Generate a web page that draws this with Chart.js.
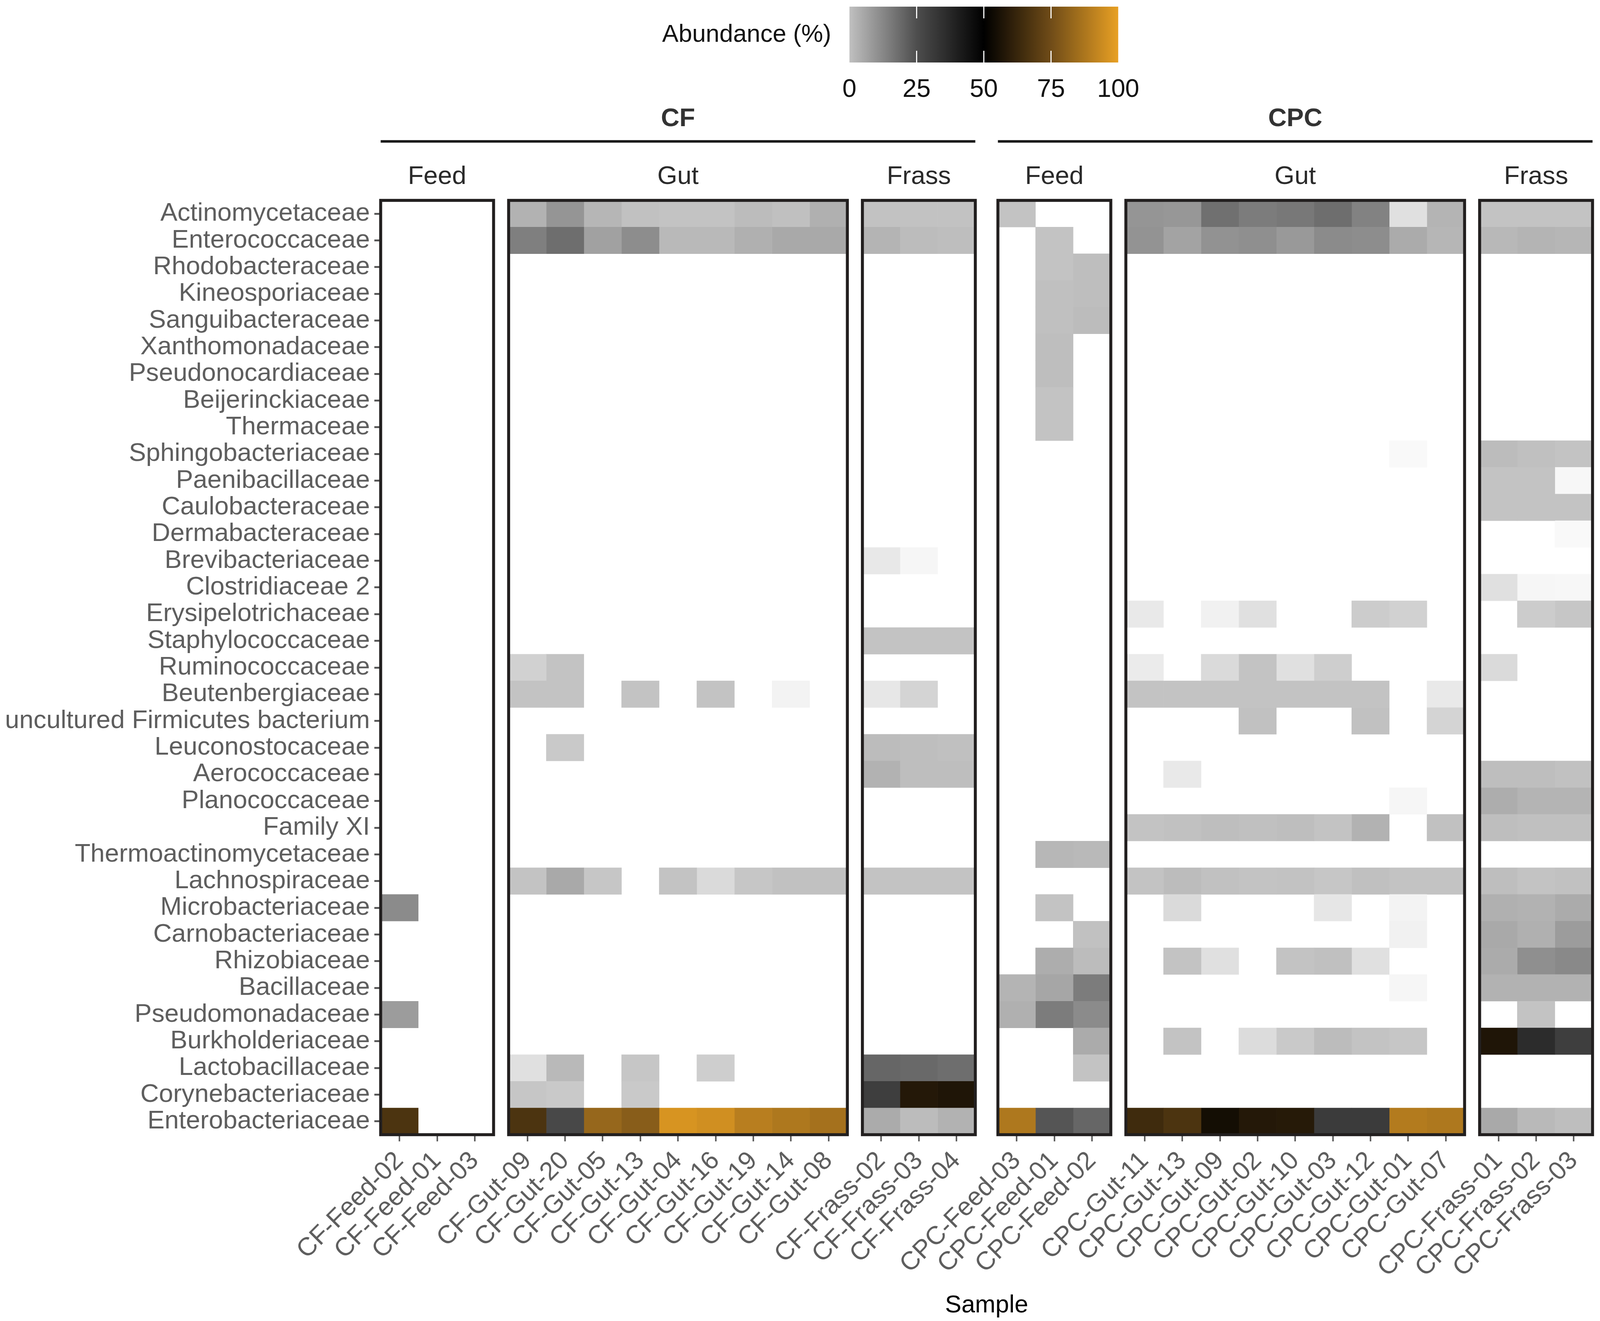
<!DOCTYPE html>
<html>
<head>
<meta charset="utf-8">
<script src="https://cdn.jsdelivr.net/npm/chart.js@4.4.1/dist/chart.umd.min.js"></script>
<style>
  html, body { margin: 0; padding: 0; background: #fff; overflow: hidden; }
  #box { position: relative; width: 100vw; height: 100vh; }
</style>
</head>
<body>
<div id="box"><canvas id="chart"></canvas></div>
<script>
const families = ['Actinomycetaceae', 'Enterococcaceae', 'Rhodobacteraceae', 'Kineosporiaceae', 'Sanguibacteraceae',
  'Xanthomonadaceae', 'Pseudonocardiaceae', 'Beijerinckiaceae', 'Thermaceae', 'Sphingobacteriaceae',
  'Paenibacillaceae', 'Caulobacteraceae', 'Dermabacteraceae', 'Brevibacteriaceae', 'Clostridiaceae 2',
  'Erysipelotrichaceae', 'Staphylococcaceae', 'Ruminococcaceae', 'Beutenbergiaceae', 'uncultured Firmicutes bacterium',
  'Leuconostocaceae', 'Aerococcaceae', 'Planococcaceae', 'Family XI', 'Thermoactinomycetaceae',
  'Lachnospiraceae', 'Microbacteriaceae', 'Carnobacteriaceae', 'Rhizobiaceae', 'Bacillaceae',
  'Pseudomonadaceae', 'Burkholderiaceae', 'Lactobacillaceae', 'Corynebacteriaceae', 'Enterobacteriaceae'];

const cfFeedSamples = ['CF-Feed-02', 'CF-Feed-01', 'CF-Feed-03'];
const cfGutSamples = ['CF-Gut-09', 'CF-Gut-20', 'CF-Gut-05', 'CF-Gut-13', 'CF-Gut-04', 'CF-Gut-16', 'CF-Gut-19', 'CF-Gut-14', 'CF-Gut-08'];
const cfFrassSamples = ['CF-Frass-02', 'CF-Frass-03', 'CF-Frass-04'];
const cpcFeedSamples = ['CPC-Feed-03', 'CPC-Feed-01', 'CPC-Feed-02'];
const cpcGutSamples = ['CPC-Gut-11', 'CPC-Gut-13', 'CPC-Gut-09', 'CPC-Gut-02', 'CPC-Gut-10', 'CPC-Gut-03', 'CPC-Gut-12', 'CPC-Gut-01', 'CPC-Gut-07'];
const cpcFrassSamples = ['CPC-Frass-01', 'CPC-Frass-02', 'CPC-Frass-03'];

// abundance (%) — one row per family (same order as families), one column per sample
const cfFeed = [
  [0,0,0],[0,0,0],[0,0,0],[0,0,0],[0,0,0],
  [0,0,0],[0,0,0],[0,0,0],[0,0,0],[0,0,0],
  [0,0,0],[0,0,0],[0,0,0],[0,0,0],[0,0,0],
  [0,0,0],[0,0,0],[0,0,0],[0,0,0],[0,0,0],
  [0,0,0],[0,0,0],[0,0,0],[0,0,0],[0,0,0],
  [0,0,0],[12.4,0,0],[0,0,0],[0,0,0],[0,0,0],
  [9,0,0],[0,0,0],[0,0,0],[0,0,0],[67,0,0]
];
const cfGut = [
  [4.4, 10.4, 3.6, 1.4, 1, 1, 2.4, 1.6, 5],
  [15, 18.4, 8, 12, 3, 3, 5, 6.4, 6.4],
  [0,0,0,0,0,0,0,0,0],
  [0,0,0,0,0,0,0,0,0],
  [0,0,0,0,0,0,0,0,0],
  [0,0,0,0,0,0,0,0,0],
  [0,0,0,0,0,0,0,0,0],
  [0,0,0,0,0,0,0,0,0],
  [0,0,0,0,0,0,0,0,0],
  [0,0,0,0,0,0,0,0,0],
  [0,0,0,0,0,0,0,0,0],
  [0,0,0,0,0,0,0,0,0],
  [0,0,0,0,0,0,0,0,0],
  [0,0,0,0,0,0,0,0,0],
  [0,0,0,0,0,0,0,0,0],
  [0,0,0,0,0,0,0,0,0],
  [0,0,0,0,0,0,0,0,0],
  [0.75, 1, 0, 0, 0, 0, 0, 0, 0],
  [1, 1, 0, 1, 0, 1, 0, 0.15, 0],
  [0,0,0,0,0,0,0,0,0],
  [0, 0.9, 0, 0, 0, 0, 0, 0, 0],
  [0,0,0,0,0,0,0,0,0],
  [0,0,0,0,0,0,0,0,0],
  [0,0,0,0,0,0,0,0,0],
  [0,0,0,0,0,0,0,0,0],
  [1, 6.4, 0.95, 0, 1, 0.6, 0.95, 1.4, 1.4],
  [0,0,0,0,0,0,0,0,0],
  [0,0,0,0,0,0,0,0,0],
  [0,0,0,0,0,0,0,0,0],
  [0,0,0,0,0,0,0,0,0],
  [0,0,0,0,0,0,0,0,0],
  [0,0,0,0,0,0,0,0,0],
  [0.5, 3, 0, 0.95, 0, 0.8, 0, 0, 0],
  [0.95, 0.9, 0, 0.9, 0, 0, 0, 0, 0],
  [67, 27, 83, 80, 96.5, 95, 90, 88, 86]
];
const cfFrass = [
  [1.2,1.2,1.2],[4,2.4,2],[0,0,0],[0,0,0],[0,0,0],
  [0,0,0],[0,0,0],[0,0,0],[0,0,0],[0,0,0],
  [0,0,0],[0,0,0],[0,0,0],[0.35,0.1,0],[0,0,0],
  [0,0,0],[1,1,1],[0,0,0],[0.36,0.7,0],[0,0,0],
  [2.4,2,1.6],[4.4,2,2],[0,0,0],[0,0,0],[0,0,0],
  [1,1,1],[0,0,0],[0,0,0],[0,0,0],[0,0,0],
  [0,0,0],[0,0,0],[20,19.4,18.4],[30,58,57],[6,2.4,4.4]
];
const cpcFeed = [
  [1,0,0],[0,1,0],[0,1,2],[0,1.6,2],[0,1.6,2.4],
  [0,2,0],[0,2,0],[0,1,0],[0,1,0],[0,0,0],
  [0,0,0],[0,0,0],[0,0,0],[0,0,0],[0,0,0],
  [0,0,0],[0,0,0],[0,0,0],[0,0,0],[0,0,0],
  [0,0,0],[0,0,0],[0,0,0],[0,0,0],[0,3.4,3],
  [0,0,0],[0,1,0],[0,0,1.4],[0,5.6,2.4],[4,7,15.6],
  [5,15.6,12.4],[0,0,6],[0,0,1],[0,0,0],[88,23.6,20]
];
const cpcGut = [
  [10.4, 10, 18, 15.6, 16.4, 18.4, 14.4, 0.5, 4],
  [10.8, 7.6, 11, 11.6, 9.6, 12.4, 12, 6, 3.6],
  [0,0,0,0,0,0,0,0,0],
  [0,0,0,0,0,0,0,0,0],
  [0,0,0,0,0,0,0,0,0],
  [0,0,0,0,0,0,0,0,0],
  [0,0,0,0,0,0,0,0,0],
  [0,0,0,0,0,0,0,0,0],
  [0,0,0,0,0,0,0,0,0],
  [0, 0, 0, 0, 0, 0, 0, 0.06, 0],
  [0,0,0,0,0,0,0,0,0],
  [0,0,0,0,0,0,0,0,0],
  [0,0,0,0,0,0,0,0,0],
  [0,0,0,0,0,0,0,0,0],
  [0,0,0,0,0,0,0,0,0],
  [0.34, 0, 0.2, 0.5, 0, 0, 0.85, 0.75, 0],
  [0,0,0,0,0,0,0,0,0],
  [0.3, 0, 0.6, 1, 0.5, 0.8, 0, 0, 0],
  [1, 1, 1, 1, 1, 1, 1, 0, 0.34],
  [0, 0, 0, 1.4, 0, 0, 1.4, 0, 0.7],
  [0,0,0,0,0,0,0,0,0],
  [0, 0.34, 0, 0, 0, 0, 0, 0, 0],
  [0, 0, 0, 0, 0, 0, 0, 0.1, 0],
  [1, 1.4, 2, 1.6, 2, 1, 4.4, 0, 1.4],
  [0,0,0,0,0,0,0,0,0],
  [1, 2.4, 1.4, 1, 1.2, 0.95, 1.6, 1, 1],
  [0, 0.6, 0, 0, 0, 0.38, 0, 0.15, 0],
  [0, 0, 0, 0, 0, 0, 0, 0.2, 0],
  [0, 1, 0.5, 0, 1, 1.6, 0.5, 0, 0],
  [0, 0, 0, 0, 0, 0, 0, 0.1, 0],
  [0,0,0,0,0,0,0,0,0],
  [0, 1, 0, 0.57, 0.9, 2.4, 1, 0.95, 0],
  [0,0,0,0,0,0,0,0,0],
  [0,0,0,0,0,0,0,0,0],
  [64, 67, 54.5, 58, 58.5, 31, 31, 89, 88]
];
const cpcFrass = [
  [1,1,1],[3.2,4,3.6],[0,0,0],[0,0,0],[0,0,0],
  [0,0,0],[0,0,0],[0,0,0],[0,0,0],[2.4,1.6,1],
  [1,1,0.08],[1,1,1],[0,0,0.05],[0,0,0],[0.5,0.1,0.08],
  [0,0.85,0.95],[0,0,0],[0.6,0,0],[0,0,0],[0,0,0],
  [0,0,0],[2,2,1.4],[5.6,4,4],[2,1.6,1.6],[0,0,0],
  [2,1,1.4],[5,4.4,6],[6.4,5,9],[6,11.6,13],[4.4,4.4,4.4],
  [0,1,0],[57,36,30],[0,0,0],[0,0,0],[6.4,3,2]
];

const colorTicks = [0, 25, 50, 75, 100];

const FONT = '"Liberation Sans", Arial, Helvetica, sans-serif';
Chart.defaults.font.family = FONT;

// everything below was measured on a 4304 x 3382 page; scale to the real viewport
const SX = window.innerWidth / 4304;
const SY = window.innerHeight / 3382;
const S = Math.min(SX, SY);

// grey -> black -> orange colour scale
const stops = [[0, [192,192,192]], [25, [78,78,78]], [50, [0,0,0]], [75, [112,76,24]], [100, [232,160,35]]];
function mix(a, b, t) { return a.map((v, i) => Math.round(v + (b[i] - v) * t)); }
function scaleColor(v) {
  for (let i = 1; i < stops.length; i++) {
    if (v <= stops[i][0]) {
      const t = (v - stops[i-1][0]) / (stops[i][0] - stops[i-1][0]);
      return mix(stops[i-1][1], stops[i][1], t);
    }
  }
  return stops[stops.length - 1][1];
}
function fillFor(v) {
  let c;
  if (v <= 0) c = [255,255,255];
  else if (v < 1) c = mix([252,252,252], [195,195,195], v);   // trace amounts fade to white
  else if (v <= 25) c = mix([195,195,195], [78,78,78], (v - 1) / 24);
  else c = scaleColor(v);
  return `rgb(${c[0]},${c[1]},${c[2]})`;
}

const panels = [
  { group: 'CF', strip: 'Feed', samples: cfFeedSamples, values: cfFeed },
  { group: 'CF', strip: 'Gut', samples: cfGutSamples, values: cfGut },
  { group: 'CF', strip: 'Frass', samples: cfFrassSamples, values: cfFrass },
  { group: 'CPC', strip: 'Feed', samples: cpcFeedSamples, values: cpcFeed },
  { group: 'CPC', strip: 'Gut', samples: cpcGutSamples, values: cpcGut },
  { group: 'CPC', strip: 'Frass', samples: cpcFrassSamples, values: cpcFrass }
];
const gaps = [0, 0.4, 0.4, 0.6, 0.4, 0.4];
let cursor = 0;
panels.forEach((p, i) => {
  cursor += gaps[i];
  p.start = cursor;
  cursor += p.samples.length;
  p.end = cursor;
});
const xMax = cursor;

const tickCenters = [];
const tickNames = [];
const datasets = [];
panels.forEach(p => p.samples.forEach((s, j) => {
  const x0 = p.start + j;
  tickCenters.push(x0 + 0.5);
  tickNames.push(s);
  datasets.push({
    label: s,
    data: p.values.map(row => row[j] > 0 ? [x0, x0 + 1] : null),
    backgroundColor: p.values.map(row => fillFor(row[j])),
    borderWidth: 0,
    barPercentage: 1,
    categoryPercentage: 1,
    grouped: false
  });
}));

const facets = {
  id: 'facets',
  afterDatasetsDraw(chart) {
    const { ctx, chartArea: a, scales: { x } } = chart;
    ctx.save();
    // panel borders + strip labels
    ctx.lineWidth = 8 * S;
    ctx.strokeStyle = '#221f1f';
    ctx.fillStyle = '#2a2a2a';
    ctx.textAlign = 'center';
    ctx.textBaseline = 'middle';
    ctx.font = (69 * S) + 'px ' + FONT;
    panels.forEach(p => {
      const l = x.getPixelForValue(p.start), r = x.getPixelForValue(p.end);
      ctx.strokeRect(l, a.top, r - l, a.bottom - a.top);
      ctx.fillText(p.strip, (l + r) / 2, 453 * SY);
    });
    // group strips
    ['CF', 'CPC'].forEach(g => {
      const ps = panels.filter(p => p.group === g);
      const l = x.getPixelForValue(ps[0].start), r = x.getPixelForValue(ps[ps.length - 1].end);
      ctx.lineWidth = 7 * S;
      ctx.strokeStyle = '#1a1a1a';
      ctx.beginPath();
      ctx.moveTo(l, 362 * SY);
      ctx.lineTo(r, 362 * SY);
      ctx.stroke();
      ctx.font = 'bold ' + (69 * S) + 'px ' + FONT;
      ctx.fillStyle = '#333';
      ctx.fillText(g, (l + r) / 2, 305 * SY);
    });
    // colour bar legend
    const bx = 2285 * SX, bw = 723 * SX, by = 17 * SY, bh = 143 * SY;
    const grad = ctx.createLinearGradient(bx, 0, bx + bw, 0);
    for (let v = 0; v <= 100; v += 5) {
      const c = scaleColor(v);
      grad.addColorStop(v / 100, `rgb(${c[0]},${c[1]},${c[2]})`);
    }
    ctx.fillStyle = grad;
    ctx.fillRect(bx, by, bw, bh);
    ctx.strokeStyle = '#fff';
    ctx.lineWidth = 3 * S;
    colorTicks.slice(1, -1).forEach(t => {
      const px = bx + bw * t / 100;
      ctx.beginPath();
      ctx.moveTo(px, by); ctx.lineTo(px, by + 30 * SY);
      ctx.moveTo(px, by + bh - 30 * SY); ctx.lineTo(px, by + bh);
      ctx.stroke();
    });
    ctx.fillStyle = '#111';
    ctx.font = (68 * S) + 'px ' + FONT;
    colorTicks.forEach(t => ctx.fillText(String(t), bx + bw * t / 100, 230 * SY));
    ctx.textAlign = 'right';
    ctx.font = (66 * S) + 'px ' + FONT;
    ctx.fillText('Abundance (%)', 2236 * SX, 90 * SY);
    ctx.restore();
  }
};

new Chart(document.getElementById('chart'), {
  type: 'bar',
  data: { labels: families, datasets: datasets },
  options: {
    indexAxis: 'y',
    responsive: true,
    maintainAspectRatio: false,
    animation: false,
    layout: { padding: { top: 513 * SY, right: 8 * SX, left: 0, bottom: 0 } },
    plugins: { legend: { display: false }, tooltip: { enabled: false } },
    scales: {
      x: {
        type: 'linear',
        min: 0,
        max: xMax,
        position: 'bottom',
        afterBuildTicks: s => { s.ticks = tickCenters.map(v => ({ value: v })); },
        afterFit: s => { s.height = 477 * SY; },
        ticks: {
          autoSkip: false,
          minRotation: 45,
          maxRotation: 45,
          padding: 12 * S,
          color: '#5e5e5e',
          font: { size: 69 * S },
          callback: (v, i) => tickNames[i]
        },
        grid: { drawOnChartArea: false, tickLength: 18 * S, tickWidth: 4 * S, tickColor: '#555' },
        border: { display: false },
        title: { display: true, text: 'Sample', color: '#000', font: { size: 66 * S }, padding: { top: 0, bottom: 2 * S } }
      },
      y: {
        type: 'category',
        afterFit: s => { s.width = 1024 * SX; },
        ticks: { autoSkip: false, color: '#5e5e5e', font: { size: 69 * S }, padding: 12 * S },
        grid: { drawOnChartArea: false, offset: false, tickLength: 17 * S, tickWidth: 5 * S, tickColor: '#555' },
        border: { display: false }
      }
    }
  },
  plugins: [facets]
});
</script>
</body>
</html>
